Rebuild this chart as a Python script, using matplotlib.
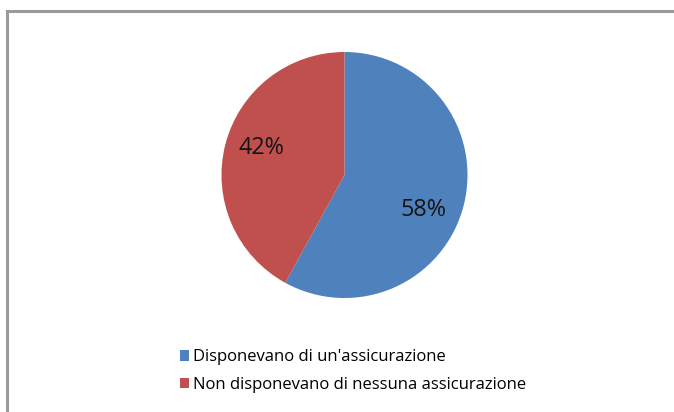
import matplotlib
matplotlib.use("Agg")
import matplotlib.pyplot as plt
from matplotlib.patches import Patch
from matplotlib.lines import Line2D

plt.rcParams['font.family'] = ['Open Sans', 'DejaVu Sans']

labels = ["Disponevano di un'assicurazione", "Non disponevano di nessuna assicurazione"]
values = [58, 42]
colors = ["#4F81BD", "#C0504D"]
# label anchor points inside the unit pie (best-fit placement)
label_pos = [(0.642, -0.285), (-0.675, 0.22)]

W, H = 674, 412
fig = plt.figure(figsize=(W / 100, H / 100), dpi=100)
fig.patch.set_facecolor("white")

# outer frame (top and left edges)
fig.add_artist(Line2D([7 / W, 1], [1 - 11 / H, 1 - 11 / H], color="#9a9a9a", lw=2.2))
fig.add_artist(Line2D([7 / W, 7 / W], [0, 1 - 11 / H], color="#9a9a9a", lw=2.2))

cx, cy, r = 344.5, 175, 123
ax = fig.add_axes([(cx - r) / W, 1 - (cy + r) / H, 2 * r / W, 2 * r / H])
wedges, texts, autotexts = ax.pie(
    values, colors=colors, startangle=90, counterclock=False,
    autopct=lambda p: f"{p:.0f}%", pctdistance=0.68, radius=1,
    textprops=dict(fontsize=16.8, color="#141414"),
)
for t, pos in zip(autotexts, label_pos):
    t.set_position(pos)
ax.set_xlim(-1, 1)
ax.set_ylim(-1, 1)
ax.set_aspect("equal")
ax.axis("off")

handles = [Patch(facecolor=c, edgecolor="none") for c in colors]
fig.legend(handles, labels, loc="upper left",
           bbox_to_anchor=(172 / W, 1 - 341 / H), frameon=False,
           fontsize=12, handlelength=0.52, handleheight=0.56,
           handletextpad=0.22, labelspacing=0.7, borderpad=0)

fig.savefig("out.png", dpi=100)
